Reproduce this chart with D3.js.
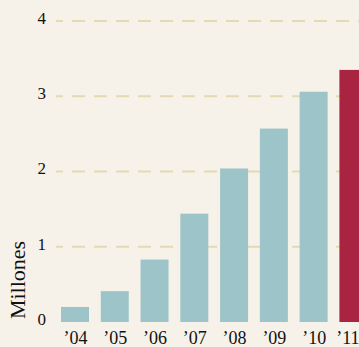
<!DOCTYPE html>
<html>
<head>
<meta charset="utf-8">
<script src="https://cdn.jsdelivr.net/npm/d3@7"></script>
<style>
html,body{margin:0;padding:0;background:#f6f2ea;}
svg{display:block;}
</style>
</head>
<body>
<svg id="chart" width="359" height="347"></svg>
<script>
const years = ["’04","’05","’06","’07","’08","’09","’10","’11"];
const values = [0.2, 0.41, 0.83, 1.44, 2.04, 2.57, 3.06, 3.35];
const highlight = [false,false,false,false,false,false,false,true];
const yTicks = [0,1,2,3,4];
const yTitle = "Millones";

const svg = d3.select("#chart");
const W = 359, H = 347;
svg.append("rect").attr("width",W).attr("height",H).attr("fill","#f6f2ea");

const y = d3.scaleLinear().domain([0,4]).range([322,21]);
const x = d3.scaleBand().domain(years).range([61, 61+38.43*8]).paddingInner(0.27).paddingOuter(0).align(0);

// gridlines
const grid = svg.append("g");
grid.selectAll("line").data(yTicks.filter(d=>d>0)).join("line")
  .attr("x1",56).attr("x2",W)
  .attr("y1",d=>y(d)).attr("y2",d=>y(d))
  .attr("stroke","#e3d9b3").attr("stroke-width",2)
  .attr("stroke-dasharray","13,9").attr("stroke-dashoffset",6);

// bars
svg.append("g").selectAll("rect").data(values).join("rect")
  .attr("x",(d,i)=>x(years[i]))
  .attr("width",28)
  .attr("y",d=>y(d))
  .attr("height",d=>y(0)-y(d))
  .attr("fill",(d,i)=>highlight[i]?"#a82440":"#9dc4c8");

// y axis labels
const yAxis = d3.axisLeft(y).tickValues(yTicks).tickFormat(d3.format("d")).tickSize(0).tickPadding(0);
const ya = svg.append("g").attr("transform","translate(46,-3)").call(yAxis);
ya.select(".domain").remove();
ya.selectAll("text").attr("font-family","'Liberation Serif', serif").attr("font-size",17).attr("fill","#111");

// x axis labels
const xAxis = d3.axisBottom(x).tickSize(0).tickPadding(0);
const xa = svg.append("g").attr("transform","translate(0,330)").call(xAxis);
xa.select(".domain").remove();
xa.selectAll("text").attr("font-family","'Liberation Serif', serif").attr("font-size",18).attr("fill","#111").attr("dy","0.75em");
xa.selectAll(".tick").filter((d,i)=>i===years.length-1).select("text").attr("dx",-6);

// y title
svg.append("text")
  .attr("transform","translate(25,280) rotate(-90)")
  .attr("text-anchor","middle")
  .attr("font-family","'Liberation Serif', serif")
  .attr("font-size",22).attr("fill","#111")
  .text(yTitle);
</script>
</body>
</html>
